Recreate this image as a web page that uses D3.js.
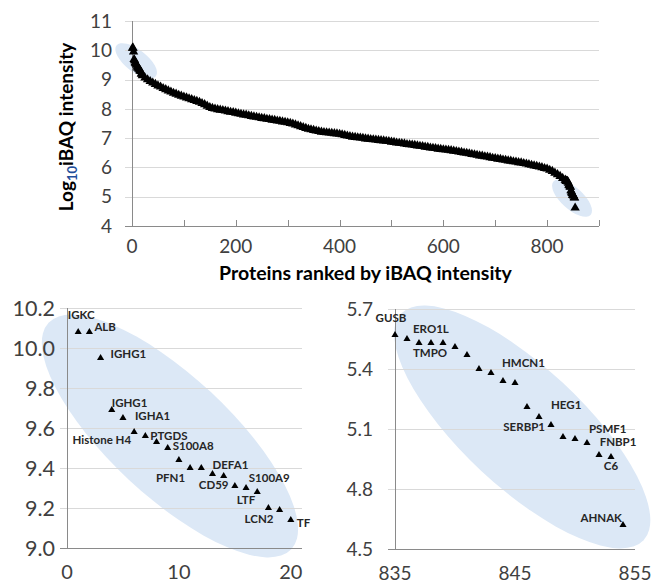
<!DOCTYPE html>
<html lang="en">
<head>
<meta charset="UTF-8">
<title>Proteins ranked by iBAQ intensity</title>
<script src="https://d3js.org/d3.v7.min.js"></script>
<style>
  body { margin: 0; background: #fff; }
  svg { display: block; font-family: Lato, "Open Sans", sans-serif; }
  .grid { stroke: #d9d9d9; stroke-width: 1; }
  .axis-line { stroke: #8a8a8a; stroke-width: 1; fill: none; }
  .tick-label { fill: #404040; }
  .pt-label { font-size: 11.5px; font-weight: bold; fill: #262626; }
  .halo { fill: #dce8f6; }
</style>
</head>
<body>
<svg width="654" height="586"></svg>
<script>
// ---- data ----
// top 20 proteins (rank 1..20)
const headRanks = d3.range(1, 21);
const headValues = [10.08, 10.08, 9.95, 9.69, 9.65, 9.58, 9.56, 9.53, 9.50, 9.44,
                    9.40, 9.40, 9.37, 9.36, 9.31, 9.30, 9.28, 9.20, 9.19, 9.14];
// bottom 20 proteins (rank 835..854)
const tailRanks = d3.range(835, 855);
const tailValues = [5.57, 5.55, 5.53, 5.53, 5.53, 5.51, 5.47, 5.40, 5.38, 5.34,
                    5.33, 5.21, 5.16, 5.12, 5.06, 5.05, 5.03, 4.97, 4.96, 4.62];
// rest of the ranked curve, read every 5 ranks
const midRanks = d3.range(25, 835, 5);
const midValues = [
  9.06, 9.00, 8.94, 8.89, 8.84, 8.79, 8.75, 8.70, 8.66, 8.62,
  8.58, 8.54, 8.51, 8.47, 8.44, 8.41, 8.38, 8.35, 8.32, 8.29,
  8.26, 8.23, 8.19, 8.15, 8.10, 8.05, 8.02, 8.00, 7.98, 7.96,
  7.95, 7.93, 7.91, 7.89, 7.88, 7.86, 7.84, 7.82, 7.80, 7.79,
  7.77, 7.75, 7.73, 7.72, 7.70, 7.68, 7.67, 7.65, 7.64, 7.62,
  7.61, 7.59, 7.58, 7.56, 7.55, 7.53, 7.51, 7.49, 7.46, 7.43,
  7.40, 7.37, 7.34, 7.31, 7.29, 7.27, 7.25, 7.23, 7.21, 7.20,
  7.19, 7.18, 7.17, 7.16, 7.15, 7.14, 7.12, 7.10, 7.08, 7.06,
  7.04, 7.03, 7.02, 7.01, 7.00, 6.98, 6.97, 6.96, 6.95, 6.94,
  6.93, 6.92, 6.91, 6.90, 6.89, 6.87, 6.86, 6.84, 6.83, 6.82,
  6.81, 6.79, 6.78, 6.77, 6.76, 6.74, 6.73, 6.72, 6.70, 6.69,
  6.67, 6.66, 6.65, 6.63, 6.62, 6.61, 6.60, 6.59, 6.58, 6.56,
  6.55, 6.53, 6.52, 6.50, 6.49, 6.47, 6.45, 6.44, 6.42, 6.40,
  6.39, 6.37, 6.36, 6.34, 6.32, 6.31, 6.29, 6.28, 6.26, 6.25,
  6.23, 6.22, 6.20, 6.19, 6.17, 6.16, 6.14, 6.12, 6.10, 6.08,
  6.06, 6.04, 6.02, 6.00, 5.97, 5.95, 5.91, 5.87, 5.81, 5.76,
  5.70, 5.63
];

const headLabelNames = ["IGKC", "ALB", "IGHG1", "IGHG1", "IGHA1", "Histone H4", "PTGDS", "S100A8",
                        "PFN1", "DEFA1", "CD59", "LTF", "S100A9", "LCN2", "TF"];
const headLabelRanks = [1, 2, 3, 4, 5, 6, 7, 9, 11, 13, 14, 16, 17, 18, 20];
const tailLabelNames = ["GUSB", "ERO1L", "TMPO", "HMCN1", "HEG1", "SERBP1", "PSMF1", "FNBP1", "C6", "AHNAK"];
const tailLabelRanks = [835, 836, 838, 844, 847, 847, 851, 853, 853, 854];

const topYTicks = [4, 5, 6, 7, 8, 9, 10, 11];
const topXTicks = [0, 200, 400, 600, 800];
const topMinorTicks = [100, 200, 300, 400, 500, 600, 700, 800, 900];
const leftYTicks = [9.0, 9.2, 9.4, 9.6, 9.8, 10.0, 10.2];
const leftXTicks = [0, 10, 20];
const rightYTicks = [4.5, 4.8, 5.1, 5.4, 5.7];
const rightXTicks = [835, 845, 855];

// label placement: [anchor, dx, dy] relative to its point
const headLabelPos = [
  ["middle", 3, -17], ["start", 5, -5], ["start", 10, -4], ["start", 0, -7], ["start", 12, -2],
  ["end", -3, 8], ["start", 5, 0], ["start", 5, -2], ["end", -5, 10], ["start", 0, -9],
  ["middle", -10, 9], ["middle", 0, 12], ["middle", 12, -14], ["end", 5, 11], ["start", 6, 3]
];
const tailLabelPos = [
  ["middle", -4, -17], ["start", 6, -10], ["middle", -1, 10], ["start", -1, -18], ["start", 12, -12],
  ["end", 6, 10], ["start", 2, -14], ["middle", 7, -15], ["middle", 0, 9], ["end", -1, -7]
];

const svg = d3.select("svg");
const tri = size => d3.symbol(d3.symbolTriangle, size)();

function halo(g, cx, cy, a, b, angle) {
  g.append("ellipse").attr("class", "halo")
    .attr("rx", a).attr("ry", b)
    .attr("transform", `translate(${cx},${cy}) rotate(${angle})`);
}

function frame(g, x, y, yTicks, xTicks, o) {
  const [x0, x1] = x.range();
  const [yb, yt] = y.range();
  g.append("g").selectAll("line").data(yTicks.slice(1)).join("line")
    .attr("class", "grid")
    .attr("x1", x0 - 7).attr("x2", x1)
    .attr("y1", d => Math.round(y(d)) + 0.5).attr("y2", d => Math.round(y(d)) + 0.5);
  g.append("path").attr("class", "axis-line")
    .attr("d", `M${x0 - 7},${yb + 0.5}H${x1}M${x0 + 0.5},${yt}V${yb}`);
  g.append("g").selectAll("text").data(yTicks).join("text")
    .attr("class", "tick-label")
    .attr("x", x0 - o.yGap).attr("y", d => y(d)).attr("dy", "0.35em")
    .attr("text-anchor", "end").style("font-size", o.yFont + "px")
    .text(o.yFmt);
  g.append("g").selectAll("text").data(xTicks).join("text")
    .attr("class", "tick-label")
    .attr("x", d => x(d)).attr("y", yb + o.xGap).attr("dy", "0.35em")
    .attr("text-anchor", "middle").style("font-size", o.xFont + "px")
    .text(d => d);
}

// ---- top panel ----
const xTop = d3.scaleLinear([0, 900], [132, 599]);
const yTop = d3.scaleLinear([4, 11], [226, 21]);
const gTop = svg.append("g");
halo(gTop, xTop(8), yTop(9.64), 25, 11, 38);
halo(gTop, xTop(848), yTop(4.95), 25, 11, 42);
frame(gTop, xTop, yTop, topYTicks, topXTicks, {yGap: 20, xGap: 20, yFont: 19, xFont: 19, yFmt: d => d});
gTop.append("path").attr("class", "axis-line")
  .attr("d", topMinorTicks.map(d => `M${Math.round(xTop(d)) + 0.5},226V220`).join(""));

const topPoints = [
  ...headRanks.map((r, i) => [r, headValues[i]]),
  ...midRanks.map((r, i) => [r, midValues[i]]),
  ...tailRanks.map((r, i) => [r, tailValues[i]])
];
gTop.append("g").selectAll("path").data(topPoints).join("path")
  .attr("d", tri(38)).attr("fill", "#000")
  .attr("transform", d => `translate(${xTop(d[0])},${yTop(d[1])})`);

gTop.append("text")
  .attr("x", xTop(450)).attr("y", 273).attr("dy", "0.35em")
  .attr("text-anchor", "middle")
  .style("font-size", "19.5px").style("font-weight", "bold").attr("fill", "#000")
  .text("Proteins ranked by iBAQ intensity");

const yTitle = gTop.append("text")
  .attr("transform", "translate(66,127) rotate(-90)")
  .attr("text-anchor", "middle").attr("dy", "0.35em")
  .style("font-size", "19px").style("font-weight", "bold").attr("fill", "#000");
yTitle.append("tspan").text("Log");
yTitle.append("tspan").attr("dy", "4").style("font-size", "13px").attr("fill", "#1f4e9a").text("10");
yTitle.append("tspan").attr("dy", "-4").text("iBAQ intensity");

// ---- bottom-left panel: most abundant ----
const xL = d3.scaleLinear([0, 21], [67, 302]);
const yL = d3.scaleLinear([9.0, 10.2], [548, 308]);
const gL = svg.append("g");
halo(gL, xL(9.2), yL(9.56), 166, 60, 43);
frame(gL, xL, yL, leftYTicks, leftXTicks, {yGap: 12, xGap: 24, yFont: 21.5, xFont: 20, yFmt: d3.format(".1f")});
gL.append("g").selectAll("path").data(headRanks).join("path")
  .attr("d", tri(22)).attr("fill", "#000")
  .attr("transform", (r, i) => `translate(${xL(r)},${yL(headValues[i])})`);
gL.append("g").selectAll("text").data(headLabelNames).join("text")
  .attr("class", "pt-label")
  .attr("x", (n, i) => xL(headLabelRanks[i]) + headLabelPos[i][1])
  .attr("y", (n, i) => yL(headValues[headLabelRanks[i] - 1]) + headLabelPos[i][2])
  .attr("dy", "0.35em")
  .attr("text-anchor", (n, i) => headLabelPos[i][0])
  .text(n => n);

// ---- bottom-right panel: least abundant ----
const xR = d3.scaleLinear([835, 855], [395, 635]);
const yR = d3.scaleLinear([4.5, 5.7], [549, 309]);
const gR = svg.append("g");
halo(gR, xR(845.6), yR(5.11), 166, 60, 43);
frame(gR, xR, yR, rightYTicks, rightXTicks, {yGap: 22, xGap: 24, yFont: 19, xFont: 19, yFmt: d3.format(".1f")});
gR.append("g").selectAll("path").data(tailRanks).join("path")
  .attr("d", tri(22)).attr("fill", "#000")
  .attr("transform", (r, i) => `translate(${xR(r)},${yR(tailValues[i])})`);
gR.append("g").selectAll("text").data(tailLabelNames).join("text")
  .attr("class", "pt-label")
  .attr("x", (n, i) => xR(tailLabelRanks[i]) + tailLabelPos[i][1])
  .attr("y", (n, i) => yR(tailValues[tailLabelRanks[i] - 835]) + tailLabelPos[i][2])
  .attr("dy", "0.35em")
  .attr("text-anchor", (n, i) => tailLabelPos[i][0])
  .text(n => n);
</script>
</body>
</html>
